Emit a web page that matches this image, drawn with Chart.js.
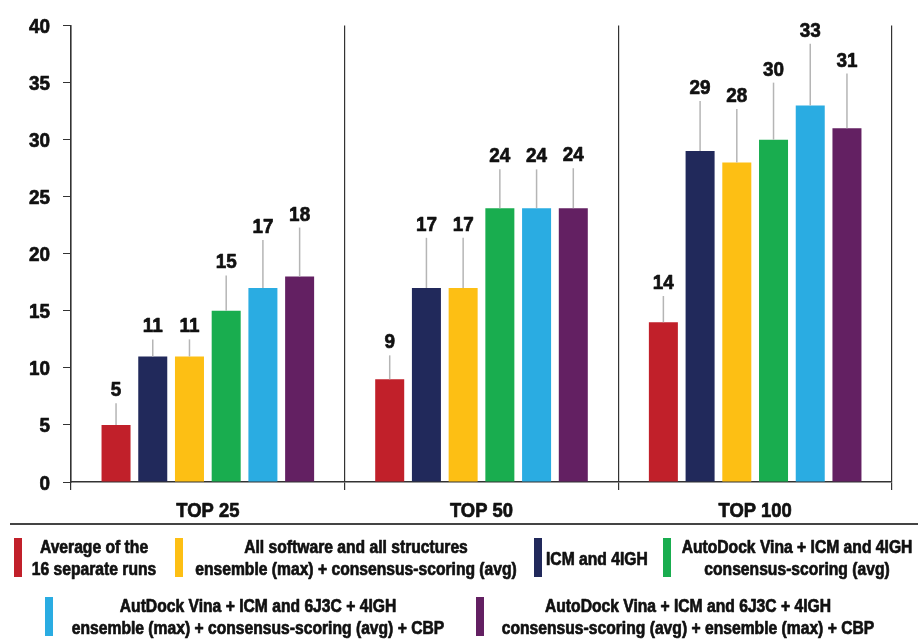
<!DOCTYPE html>
<html>
<head>
<meta charset="utf-8">
<script src="https://cdn.jsdelivr.net/npm/chart.js@4.4.1/dist/chart.umd.min.js"></script>
<style>
  html, body { margin: 0; padding: 0; background: #fff; }
</style>
</head>
<body>
<canvas id="myChart" width="918" height="640"></canvas>
<script>
// hit counts per screening depth, one array per strategy
var categories = ['TOP 25', 'TOP 50', 'TOP 100'];

var avgRuns      = [5, 9, 14];
var allSoftware  = [11, 17, 28];
var icm4igh      = [11, 17, 29];
var vinaIcm      = [15, 24, 30];
var vinaIcmCbp   = [17, 24, 33];
var vinaIcmEns   = [18, 24, 31];

// upper error (added on top of each bar)
var avgRunsErr     = [1.9, 2.1, 2.3];
var allSoftwareErr = [1.5, 4.4, 4.7];
var icm4ighErr     = [1.5, 4.4, 4.4];
var vinaIcmErr     = [3.1, 3.4, 5.0];
var vinaIcmCbpErr  = [4.2, 3.4, 5.4];
var vinaIcmEnsErr  = [4.3, 3.5, 4.8];

var yTicks = [0, 5, 10, 15, 20, 25, 30, 35, 40];

var FONT = '"Liberation Sans", Arial, sans-serif';

var series = [
  { data: avgRuns,  err: avgRunsErr,  color: '#C1202A',
    legend: ['Average of the', '16 separate runs'] },
  { data: icm4igh,  err: icm4ighErr,  color: '#21295B',
    legend: ['ICM and 4IGH'] },
  { data: allSoftware, err: allSoftwareErr, color: '#FDBF14',
    legend: ['All software and all structures', 'ensemble (max) + consensus-scoring (avg)'] },
  { data: vinaIcm,  err: vinaIcmErr,  color: '#19AD4F',
    legend: ['AutoDock Vina + ICM and 4IGH', 'consensus-scoring (avg)'] },
  { data: vinaIcmCbp, err: vinaIcmCbpErr, color: '#2AACE2',
    legend: ['AutDock Vina + ICM and 6J3C + 4IGH', 'ensemble (max) + consensus-scoring (avg) + CBP'] },
  { data: vinaIcmEns, err: vinaIcmEnsErr, color: '#632062',
    legend: ['AutoDock Vina + ICM and 6J3C + 4IGH', 'consensus-scoring (avg) + ensemble (max) + CBP'] }
];

// heavy bold text squeezed horizontally, to get a condensed look
function narrowText(ctx, text, x, y, size, squeeze, align) {
  ctx.save();
  ctx.translate(x, y);
  ctx.scale(squeeze, 1);
  ctx.font = 'bold ' + size + 'px ' + FONT;
  ctx.textAlign = align || 'center';
  ctx.textBaseline = 'alphabetic';
  ctx.fillStyle = '#111';
  ctx.strokeStyle = '#111';
  ctx.lineWidth = 0.7;
  ctx.lineJoin = 'round';
  ctx.fillText(text, 0, 0);
  ctx.strokeText(text, 0, 0);
  ctx.restore();
}

// axis labels drawn by hand so they can be condensed
var axisText = {
  id: 'axisText',
  afterDraw: function(chart) {
    var ctx = chart.ctx, xs = chart.scales.x, ys = chart.scales.y;
    yTicks.forEach(function(v) {
      narrowText(ctx, String(v), 50, ys.getPixelForValue(v) + 7.5, 21, 0.9, 'right');
    });
    categories.forEach(function(c, i) {
      narrowText(ctx, c, xs.getPixelForValue(i), 517, 20, 0.92, 'center');
    });
  }
};

// error whiskers and value labels above each bar
var barExtras = {
  id: 'barExtras',
  afterDatasetsDraw: function(chart) {
    var ctx = chart.ctx, y = chart.scales.y;
    chart.data.datasets.forEach(function(ds, i) {
      var meta = chart.getDatasetMeta(i);
      meta.data.forEach(function(bar, j) {
        var top = y.getPixelForValue(ds.data[j] + ds.errPlus[j]);
        ctx.save();
        ctx.strokeStyle = '#b5b5b5';
        ctx.lineWidth = 1.5;
        ctx.beginPath();
        ctx.moveTo(bar.x, bar.y);
        ctx.lineTo(bar.x, top);
        ctx.stroke();
        ctx.restore();
        narrowText(ctx, String(ds.data[j]), bar.x, top - 7, 21, 0.9, 'center');
      });
    });
  }
};

// legend boxes under the plot, two rows
var legendSlots = [
  { s: 0, sx: 14,  sy: 538, tx: 94 },
  { s: 2, sx: 175, sy: 538, tx: 356 },
  { s: 1, sx: 534, sy: 538, tx: 546, left: true },
  { s: 3, sx: 663, sy: 538, tx: 797 },
  { s: 4, sx: 45,  sy: 597, tx: 258 },
  { s: 5, sx: 476, sy: 597, tx: 688 }
];

var bottomLegend = {
  id: 'bottomLegend',
  afterDraw: function(chart) {
    var ctx = chart.ctx;
    ctx.save();
    ctx.strokeStyle = '#444';
    ctx.lineWidth = 2;
    ctx.beginPath();
    ctx.moveTo(10, 524);
    ctx.lineTo(918, 524);
    ctx.stroke();
    ctx.restore();

    legendSlots.forEach(function(slot) {
      var item = series[slot.s];
      ctx.fillStyle = item.color;
      ctx.fillRect(slot.sx, slot.sy, 8, 39);
      if (slot.left) {
        narrowText(ctx, item.legend[0], slot.tx, slot.sy + 27, 18, 0.87, 'left');
      } else {
        narrowText(ctx, item.legend[0], slot.tx, slot.sy + 15, 18, 0.87, 'center');
        narrowText(ctx, item.legend[1], slot.tx, slot.sy + 37, 18, 0.87, 'center');
      }
    });
  }
};

var ctx = document.getElementById('myChart').getContext('2d');
var myChart = new Chart(ctx, {
  type: 'bar',
  data: {
    labels: categories,
    datasets: series.map(function(s) {
      return {
        label: s.legend.join(' '),
        data: s.data,
        errPlus: s.err,
        backgroundColor: s.color,
        borderWidth: 0,
        categoryPercentage: 0.805,
        barPercentage: 0.79
      };
    })
  },
  options: {
    responsive: false,
    animation: false,
    devicePixelRatio: 1,
    layout: { padding: { top: 24, right: 26, bottom: 120, left: 0 } },
    plugins: {
      legend: { display: false },
      tooltip: { enabled: false }
    },
    scales: {
      x: {
        afterFit: function(scale) { scale.height = 38; },
        grid: { display: true, offset: true, color: '#333', lineWidth: 1.2, tickLength: 8 },
        border: { display: true, color: '#333', width: 1.5 },
        ticks: { color: 'rgba(0,0,0,0)', padding: 6, font: { family: FONT, size: 20, weight: 'bold' } }
      },
      y: {
        min: 0,
        max: 40,
        afterFit: function(scale) { scale.width = 71; },
        afterBuildTicks: function(scale) {
          scale.ticks = yTicks.map(function(v) { return { value: v }; });
        },
        grid: { drawOnChartArea: false, color: '#333', tickLength: 8 },
        border: { display: true, color: '#333', width: 1.5 },
        ticks: { color: 'rgba(0,0,0,0)', padding: 13, font: { family: FONT, size: 21, weight: 'bold' } }
      }
    }
  },
  plugins: [barExtras, axisText, bottomLegend]
});
</script>
</body>
</html>
